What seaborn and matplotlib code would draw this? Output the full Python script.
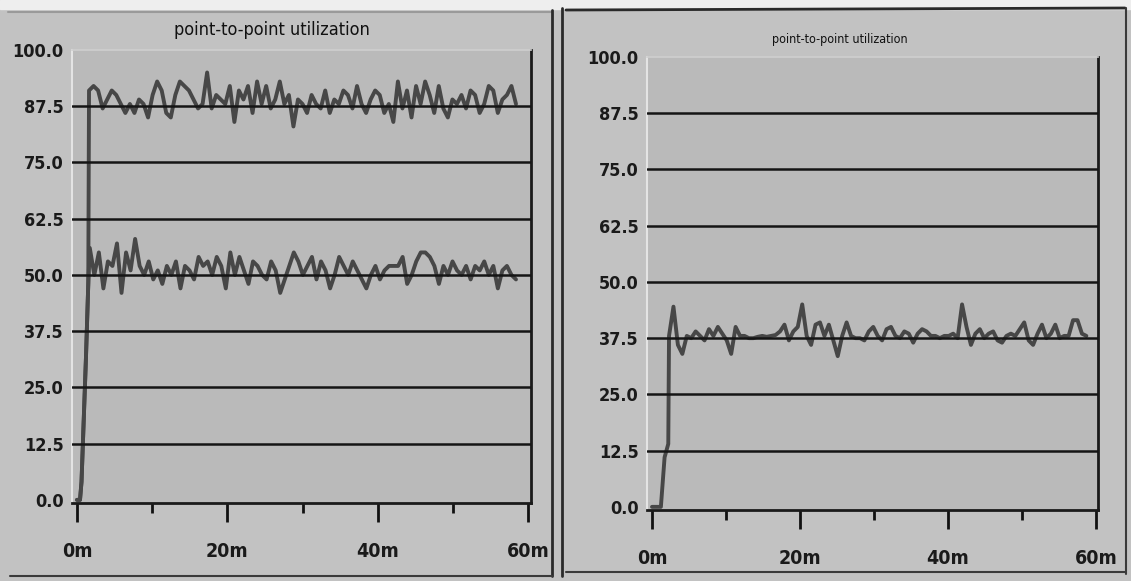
import numpy as np
import pandas as pd
import seaborn as sns
import matplotlib.pyplot as plt
from matplotlib.lines import Line2D

sns.set_theme(style="white")
plt.rcParams['font.family'] = ['DejaVu Sans']
plt.rcParams['font.stretch'] = 'condensed'

# ---- data (minutes, % utilization) ----
title_text = "point-to-point utilization"
y_ticks = [0.0, 12.5, 25.0, 37.5, 50.0, 62.5, 75.0, 87.5, 100.0]
x_major = [0, 20, 40, 60]
x_minor = [10, 30, 50]
x_labels = ["0m", "20m", "40m", "60m"]

# left panel: start-up ramp shared by both links
left_ramp_t = [0.0, 0.4, 0.6, 0.9, 1.2, 1.5]
left_ramp_v = [0.0, 0.0, 4.0, 18.0, 32.0, 48.0]

left_upper = [91, 92, 91, 87, 89, 91, 90, 88, 86, 88, 86, 89, 88, 85, 90, 93, 91, 86,
              85, 90, 93, 92, 91, 89, 87, 88, 95, 87, 90, 89, 88, 92, 84, 91, 89, 92,
              86, 93, 88, 92, 87, 89, 93, 88, 90, 83, 89, 88, 86, 90, 88, 87, 91, 86,
              89, 88, 91, 90, 87, 92, 88, 86, 89, 91, 90, 86, 88, 84, 93, 87, 91, 85,
              92, 88, 93, 90, 86, 92, 87, 85, 89, 88, 90, 87, 91, 90, 86, 88, 92, 91,
              86, 89, 90, 92, 88]
left_lower = [56, 50, 55, 47, 53, 52, 57, 46, 55, 51, 58, 52, 50, 53, 49, 51, 48, 52,
              50, 53, 47, 52, 51, 49, 54, 52, 53, 50, 54, 52, 47, 55, 50, 54, 51, 48,
              53, 52, 50, 49, 53, 51, 46, 49, 52, 55, 53, 50, 52, 54, 49, 53, 51, 47,
              50, 54, 52, 50, 53, 51, 49, 47, 50, 52, 49, 51, 52, 52, 52, 54, 48, 50,
              53, 55, 55, 54, 52, 48, 52, 50, 53, 51, 50, 52, 49, 52, 51, 53, 50, 52,
              47, 51, 52, 50, 49]
left_start, left_end = 1.6, 58.4

# right panel
right_ramp_t = [0.0, 1.2, 1.7, 2.2]
right_ramp_v = [0.0, 0.0, 11.0, 14.0]
right_series = [38, 44.5, 36, 34, 38, 37.5, 39, 38, 37, 39.5, 38, 40, 38.5, 37, 34, 40,
                38, 38, 37.5, 37.5, 37.8, 38, 37.8, 38, 38.2, 39, 40.5, 37, 39, 40, 45,
                38, 36, 40.5, 41, 38, 40.5, 37, 33.5, 38, 41, 38, 37.5, 37.5, 37, 39,
                40, 38, 37, 39.5, 40, 38, 37.5, 39, 38.5, 36.5, 38.5, 39.5, 39, 38, 38,
                37.5, 38, 38, 38.5, 37.5, 45, 40, 36, 38.5, 39.5, 37.5, 38.5, 39, 37,
                36.5, 38, 38.5, 38, 39.5, 41, 37, 36, 38.5, 40.5, 37.5, 38.5, 40.5,
                37.5, 38, 38, 41.5, 41.5, 38.5, 38]
right_start, right_end = 2.3, 58.7


def make_series(ramp_t, ramp_v, values, t0, t1):
    t = list(ramp_t) + list(np.linspace(t0, t1, len(values)))
    return pd.DataFrame({"minute": t, "util": list(ramp_v) + list(values)})


W, H = 1131, 581
fig = plt.figure(figsize=(W / 100, H / 100), dpi=100)
fig.patch.set_facecolor("#c2c2c2")

line_col = "#474747"
grid_col = "#151515"
plot_bg = "#bababa"


def style_axes(ax, xlim, title, title_size, title_pad, title_x):
    ax.set_facecolor(plot_bg)
    ax.set_xlim(*xlim)
    ax.set_ylim(-0.7, 100)
    for y in y_ticks[1:-1]:
        ax.axhline(y, color=grid_col, lw=1.8, zorder=3)
    ax.set_yticks(y_ticks)
    ax.set_yticklabels([f"{v:.1f}" for v in y_ticks], fontsize=13, fontweight="bold")
    ax.set_xticks(x_major)
    ax.set_xticklabels(x_labels, fontsize=14, fontweight="bold")
    ax.set_xticks(x_minor, minor=True)
    ax.tick_params(axis="y", length=0, pad=6, colors="#1a1a1a")
    ax.tick_params(axis="x", which="major", length=14, width=2, pad=14,
                   direction="out", color="#111111", labelcolor="#1a1a1a", bottom=True)
    ax.tick_params(axis="x", which="minor", length=7, width=2,
                   direction="out", color="#111111", bottom=True)
    ax.spines["left"].set_color("#e4e4e4")
    ax.spines["left"].set_linewidth(1.5)
    ax.spines["top"].set_color("#cfcfcf")
    ax.spines["top"].set_linewidth(1.2)
    ax.spines["right"].set_color("#1a1a1a")
    ax.spines["right"].set_linewidth(2)
    ax.spines["bottom"].set_color("#1a1a1a")
    ax.spines["bottom"].set_linewidth(2)
    ax.set_xlabel("")
    ax.set_ylabel("")
    ax.set_title(title, fontsize=title_size, pad=title_pad, x=title_x, color="#111111")


# left panel
ax1 = fig.add_axes([72 / W, (H - 503) / H, 459 / W, 453 / H])
up = make_series(left_ramp_t, left_ramp_v, left_upper, left_start, left_end)
lo = make_series(left_ramp_t, left_ramp_v, left_lower, left_start + 0.1, left_end)
sns.lineplot(data=up, x="minute", y="util", ax=ax1, color=line_col, lw=2.8, zorder=2)
sns.lineplot(data=lo, x="minute", y="util", ax=ax1, color=line_col, lw=2.8, zorder=2)
style_axes(ax1, ((72 - 77) / 7.517, (531 - 77) / 7.517), title_text, 13, 11,
           (272 - 72) / 459)

# right panel
ax2 = fig.add_axes([647 / W, (H - 510) / H, 451 / W, 453 / H])
rs = make_series(right_ramp_t, right_ramp_v, right_series, right_start, right_end)
sns.lineplot(data=rs, x="minute", y="util", ax=ax2, color=line_col, lw=2.8, zorder=2)
style_axes(ax2, ((647 - 652) / 7.4, (1098 - 652) / 7.4), title_text, 9, 10,
           (840 - 647) / 451)

# panel frames of the screenshot
def fline(x0, y0, x1, y1, c="#2a2a2a", lw=2):
    fig.add_artist(Line2D([x0 / W, x1 / W], [1 - y0 / H, 1 - y1 / H],
                          transform=fig.transFigure, color=c, lw=lw))

fig.add_artist(plt.Rectangle((0, 1 - 9 / H), 1, 9 / H, transform=fig.transFigure,
                             color="#eeeeee", zorder=0))
fline(8, 12, 552, 12, "#9a9a9a", 1.5)
fline(552, 10, 552, 576)
fline(562, 8, 562, 576)
fline(566, 10, 1125, 8)
fline(1126, 8, 1126, 574, "#3a3a3a", 1.5)
fline(10, 576, 552, 576, "#3a3a3a", 1.5)
fline(566, 572, 1125, 572, "#3a3a3a", 1.5)

fig.savefig("out.png", dpi=100, facecolor=fig.get_facecolor())
